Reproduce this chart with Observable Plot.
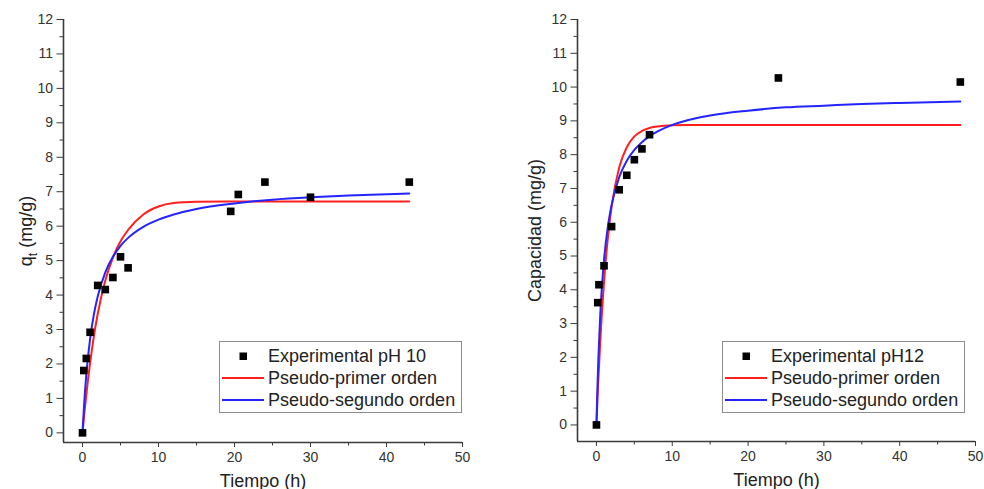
<!DOCTYPE html>
<html>
<head>
<meta charset="utf-8">
<script src="https://cdn.jsdelivr.net/npm/d3@7"></script>
<script src="https://cdn.jsdelivr.net/npm/@observablehq/plot@0.6"></script>
<style>
  html, body { margin: 0; padding: 0; background: #fff; }
  #wrap { position: relative; width: 984px; height: 489px; overflow: hidden; font-family: "Liberation Sans", Arial, sans-serif; }
  .panel { position: absolute; top: 0; }
  .legend { position: absolute; border: 1px solid #8c8c8c; background: #fff; box-sizing: border-box; }
  .legend .row { position: absolute; left: 0; height: 22px; width: 100%; }
  .legend svg { position: absolute; left: 0; top: 0; }
  .legend span { position: absolute; left: 48px; top: 0; line-height: 22px; font-size: 18px; color: #222; white-space: nowrap; }
</style>
</head>
<body>
<div id="wrap"></div>
<script>
// ---- Data ----
// Left panel: pH 10
const leftTime = [0, 0.17, 0.5, 1, 2, 3, 4, 5, 6, 19.5, 20.5, 24, 30, 43];
const leftQ    = [0, 1.81, 2.16, 2.92, 4.28, 4.16, 4.51, 5.11, 4.79, 6.43, 6.92, 7.28, 6.84, 7.28];
const leftFitTime = [0, 0.2, 0.5, 1, 1.5, 2, 3, 4, 5, 6, 8, 10, 12, 15, 20, 25, 30, 35, 43];
const leftPFO = [0, 0.47, 1.10, 2.03, 2.81, 3.45, 4.42, 5.09, 5.56, 5.89, 6.34, 6.57, 6.67, 6.71, 6.72, 6.72, 6.72, 6.72, 6.72];
const leftPSO = [0, 0.78, 1.69, 2.73, 3.44, 3.96, 4.66, 5.11, 5.43, 5.66, 5.98, 6.19, 6.34, 6.50, 6.66, 6.77, 6.84, 6.89, 6.95];

// Right panel: pH 12
const rightTime = [0, 0.17, 0.33, 1, 2, 3, 4, 5, 6, 7, 24, 48];
const rightQ    = [0, 3.62, 4.15, 4.71, 5.87, 6.96, 7.39, 7.85, 8.17, 8.59, 10.27, 10.15];
const rightFitTime = [0, 0.1, 0.25, 0.5, 1, 1.5, 2, 3, 4, 5, 6, 7, 8, 10, 12, 15, 20, 25, 30, 35, 40, 48];
const rightPFO = [0, 0.56, 1.34, 2.46, 4.24, 5.53, 6.46, 7.62, 8.22, 8.54, 8.70, 8.79, 8.83, 8.87, 8.88, 8.88, 8.88, 8.88, 8.88, 8.88, 8.88, 8.88];
const rightPSO = [0, 0.89, 1.95, 3.26, 4.89, 5.86, 6.51, 7.33, 7.82, 8.14, 8.37, 8.55, 8.68, 8.88, 9.02, 9.16, 9.30, 9.40, 9.45, 9.50, 9.53, 9.57];

// Ticks
const xTicks = [0, 10, 20, 30, 40, 50];
const xMinorTicks = [5, 15, 25, 35, 45];
const yTicks = [0, 1, 2, 3, 4, 5, 6, 7, 8, 9, 10, 11, 12];
const yMinorTicks = [0.5, 1.5, 2.5, 3.5, 4.5, 5.5, 6.5, 7.5, 8.5, 9.5, 10.5, 11.5];

// Labels
const xLabel = "Tiempo (h)";
const leftYLabel = "q_t (mg/g)";
const rightYLabel = "Capacidad (mg/g)";
const leftLegend = ["Experimental pH 10", "Pseudo-primer orden", "Pseudo-segundo orden"];
const rightLegend = ["Experimental pH12", "Pseudo-primer orden", "Pseudo-segundo orden"];

const RED = "#ff1f1f", BLUE = "#2424ff", AXIS = "#3a3a3a";

function zip(xs, ys) { return xs.map((t, i) => ({t, q: ys[i]})); }

function panel(o) {
  const pts = zip(o.time, o.q);
  const pfo = zip(o.fitTime, o.pfo);
  const pso = zip(o.fitTime, o.pso);
  const xDomain = [-2.5, 50];
  const yDomain = [o.yMin, 12];
  return Plot.plot({
    width: 492, height: 489,
    marginLeft: o.ml, marginRight: o.mr, marginTop: 19, marginBottom: o.mb,
    style: {fontFamily: '"Liberation Sans", Arial, sans-serif', fontSize: "14px", color: "#333", background: "transparent", overflow: "visible"},
    x: {domain: xDomain},
    y: {domain: yDomain},
    marks: [
      Plot.line(pfo, {x: "t", y: "q", stroke: RED, strokeWidth: 2, curve: "monotone-x"}),
      Plot.line(pso, {x: "t", y: "q", stroke: BLUE, strokeWidth: 2, curve: "monotone-x"}),
      Plot.dot(pts, {x: "t", y: "q", symbol: "square", fill: "#000", stroke: "none", r: 4.3}),
      Plot.axisY(yMinorTicks, {anchor: "left", tickSize: 3.5, tickFormat: () => "", label: null, stroke: AXIS}),
      Plot.axisY(yTicks, {anchor: "left", tickSize: 6.5, tickPadding: 4, fontSize: 14, stroke: AXIS, fill: "#333",
        label: o.ylabel, labelAnchor: "center", labelOffset: o.labelOffset, labelArrow: "none"}),
      Plot.axisX(xMinorTicks, {anchor: "bottom", tickSize: 3.5, tickFormat: () => "", label: null, stroke: AXIS}),
      Plot.axisX(xTicks, {anchor: "bottom", tickSize: 5, tickPadding: 5, fontSize: 14, stroke: AXIS, fill: "#333",
        label: xLabel, labelAnchor: "center", labelOffset: 44, labelArrow: "none"}),
      Plot.ruleX([xDomain[0]], {stroke: AXIS, strokeWidth: 1.6}),
      Plot.ruleY([yDomain[0]], {stroke: AXIS, strokeWidth: 1.6})
    ]
  });
}

function styleLabels(svg) {
  svg.querySelectorAll("text").forEach(t => {
    const s = t.textContent;
    if (s === xLabel || s === rightYLabel || s === leftYLabel) {
      t.setAttribute("font-size", "18");
      t.style.fontSize = "18px";
      t.setAttribute("fill", "#222");
    }
    if (s === leftYLabel) {
      t.innerHTML = 'q<tspan font-size="12" dy="5">t</tspan><tspan dy="-5"> (mg/g)</tspan>';
    }
  });
}

function legend(parent, left, labels) {
  const box = document.createElement("div");
  box.className = "legend";
  box.style.left = left + "px";
  box.style.top = "341px";
  box.style.width = "243px";
  box.style.height = "72px";
  const kinds = ["dot", RED, BLUE];
  labels.forEach((lab, i) => {
    const row = document.createElement("div");
    row.className = "row";
    row.style.top = (3 + i * 22) + "px";
    const sym = kinds[i] === "dot"
      ? '<rect x="19.5" y="7.5" width="7.5" height="7.5" fill="#000"/>'
      : `<line x1="2" x2="44" y1="11" y2="11" stroke="${kinds[i]}" stroke-width="2"/>`;
    row.innerHTML = `<svg width="48" height="22">${sym}</svg><span>${lab}</span>`;
    box.appendChild(row);
  });
  parent.appendChild(box);
}

const wrap = document.getElementById("wrap");

const p1 = panel({time: leftTime, q: leftQ, fitTime: leftFitTime, pfo: leftPFO, pso: leftPSO,
  yMin: -0.28, ylabel: leftYLabel, ml: 63, mr: 30, mb: 47, labelOffset: 44});
const d1 = document.createElement("div"); d1.className = "panel"; d1.style.left = "0px";
d1.appendChild(p1); wrap.appendChild(d1); styleLabels(p1);

const p2 = panel({time: rightTime, q: rightQ, fitTime: rightFitTime, pfo: rightPFO, pso: rightPSO,
  yMin: -0.49, ylabel: rightYLabel, ml: 85, mr: 9, mb: 48, labelOffset: 49});
const d2 = document.createElement("div"); d2.className = "panel"; d2.style.left = "492px";
d2.appendChild(p2); wrap.appendChild(d2); styleLabels(p2);

legend(wrap, 219, leftLegend);
legend(wrap, 722, rightLegend);
</script>
</body>
</html>
